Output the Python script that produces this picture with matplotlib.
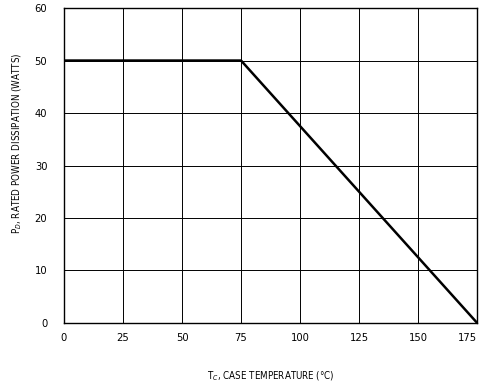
import matplotlib
matplotlib.use('Agg')
import matplotlib.pyplot as plt

# derating curve
temp = [0, 75, 175]
power = [50, 50, 0]
xticks = [0, 25, 50, 75, 100, 125, 150, 175]
yticks = [0, 10, 20, 30, 40, 50, 60]

plt.rcParams['font.family'] = ['DejaVu Sans']
plt.rcParams['font.stretch'] = 'condensed'

fig = plt.figure(figsize=(4.81, 3.84), dpi=100)
ax = fig.add_axes([0.133, 0.159, 0.859, 0.82])
ax.plot(temp, power, color='black', lw=1.8, solid_capstyle='butt', zorder=3)
ax.set_xlim(0, 175)
ax.set_ylim(0, 60)
ax.set_xticks(xticks)
ax.set_yticks(yticks)
ax.grid(True, color='black', lw=0.7)
for s in ax.spines.values():
    s.set_linewidth(1.0)
ax.tick_params(length=0, labelsize=8, pad=7)
ax.tick_params(axis='y', pad=12)
# keep the last label inside the figure
ax.get_xticklabels()[-1].set_horizontalalignment('right')
ax.set_xlabel(r'T$_C$, CASE TEMPERATURE (°C)', fontsize=7, labelpad=19)
fig.text(0.035, 0.628, r'P$_D$, RATED POWER DISSIPATION (WATTS)', fontsize=7,
         rotation=90, ha='center', va='center')

plt.savefig('out.png', dpi=100)
